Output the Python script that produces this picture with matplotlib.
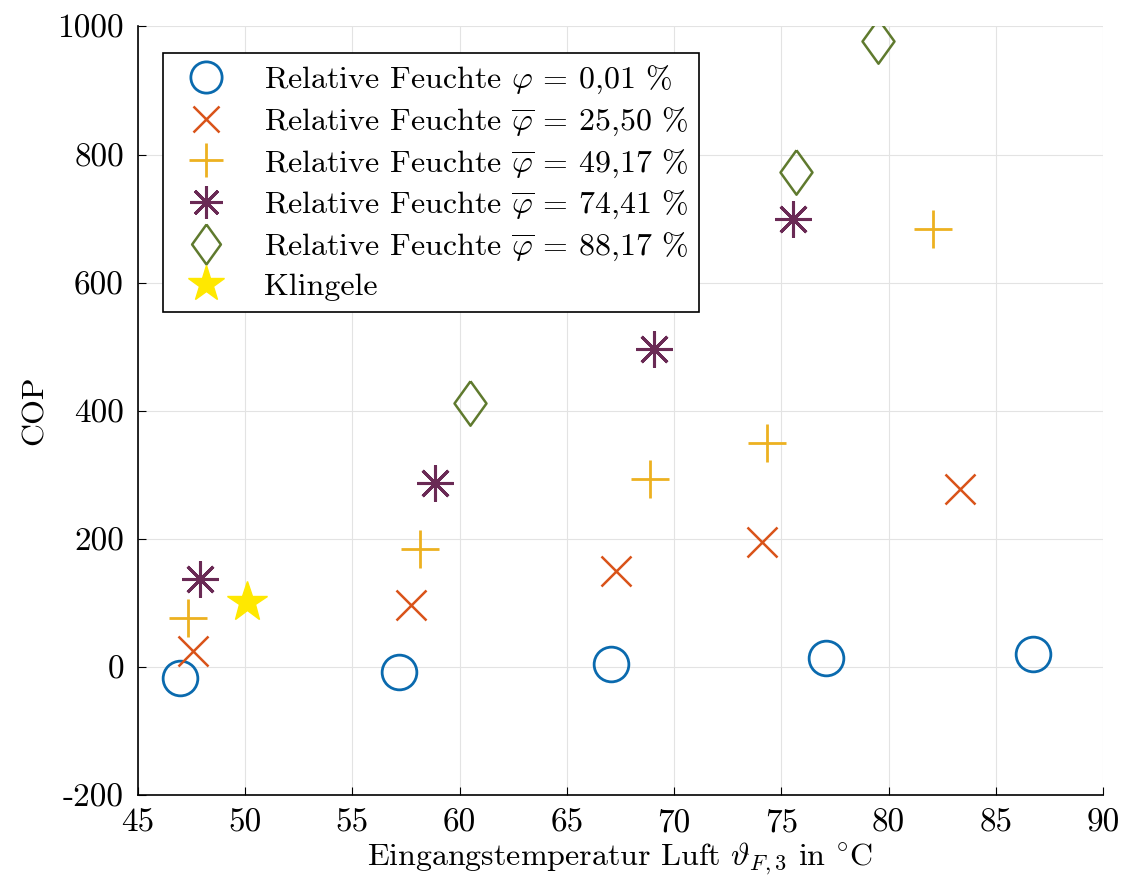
import matplotlib.pyplot as plt

plt.rcParams['font.family'] = 'serif'
plt.rcParams['font.serif'] = ['cmr10', 'DejaVu Serif']
plt.rcParams['mathtext.fontset'] = 'cm'
plt.rcParams['axes.unicode_minus'] = False
plt.rcParams['xtick.direction'] = 'in'
plt.rcParams['ytick.direction'] = 'in'
plt.rcParams['xtick.major.pad'] = 10
plt.rcParams['ytick.major.pad'] = 10
plt.rcParams['xtick.major.size'] = 6
plt.rcParams['ytick.major.size'] = 6

# data
x_phi0 = [46.96, 57.17, 67.06, 77.09, 86.74]
y_phi0 = [-17, -8, 5, 14, 20]
x_phi25 = [47.57, 57.73, 67.3, 74.1, 83.34]
y_phi25 = [25, 97, 150, 195, 278]
x_phi49 = [47.33, 58.15, 68.88, 74.34, 82.08]
y_phi49 = [77, 184, 294, 350, 683]
x_phi74 = [47.9, 58.85, 69.07, 75.55]
y_phi74 = [137, 287, 497, 700]
x_phi88 = [60.49, 75.69, 79.5]
y_phi88 = [412, 773, 977]
x_kling = [50.08]
y_kling = [101]

labels = [r'Relative Feuchte $\varphi$ = 0,01 %',
          r'Relative Feuchte $\overline{\varphi}$ = 25,50 %',
          r'Relative Feuchte $\overline{\varphi}$ = 49,17 %',
          r'Relative Feuchte $\overline{\varphi}$ = 74,41 %',
          r'Relative Feuchte $\overline{\varphi}$ = 88,17 %',
          'Klingele']

xticks = [45, 50, 55, 60, 65, 70, 75, 80, 85, 90]
yticks = [-200, 0, 200, 400, 600, 800, 1000]

diamond = [(0, 1), (0.72, 0), (0, -1), (-0.72, 0), (0, 1)]

fig = plt.figure(figsize=(11.21, 8.81), dpi=100)
ax = fig.add_axes([0.123, 0.0976, 0.861, 0.8724])

ax.plot(x_phi0, y_phi0, 'o', ms=25, mfc='none', mec='#0A6AAE', mew=2, ls='none', label=labels[0])
ax.plot(x_phi25, y_phi25, 'x', ms=21, mec='#D95319', mew=1.8, ls='none', label=labels[1])
ax.plot(x_phi49, y_phi49, '+', ms=27, mec='#EDB120', mew=2, ls='none', label=labels[2])
ax.plot(x_phi74, y_phi74, marker=(8, 2, 0), ms=26, mec='#6A2A55', mew=2.2, ls='none', label=labels[3])
ax.plot(x_phi88, y_phi88, marker=diamond, ms=32, mfc='none', mec='#5F7A2E', mew=1.8, ls='none', label=labels[4])
ax.plot(x_kling, y_kling, '*', ms=30, mfc='#FFE800', mec='#FFE800', ls='none', label=labels[5])

ax.set_xlim(45, 90)
ax.set_ylim(-200, 1000)
ax.set_xticks(xticks)
ax.set_xticklabels([str(t) for t in xticks])
ax.set_yticks(yticks)
ax.set_yticklabels([str(t) for t in yticks])
ax.tick_params(labelsize=24, top=False, right=False)
ax.grid(True, color='#e3e3e3', lw=0.8)
ax.set_axisbelow(True)
for s in ['top', 'right']:
    ax.spines[s].set_visible(False)
for s in ['left', 'bottom']:
    ax.spines[s].set_linewidth(1.2)

ax.set_xlabel(r'Eingangstemperatur Luft $\vartheta_{F,3}$ in $^{\circ}$C', fontsize=23, labelpad=2)
ax.set_ylabel('COP', fontsize=23, labelpad=6)

leg = ax.legend(loc='upper left', bbox_to_anchor=(0.026, 0.966), borderaxespad=0, fontsize=23,
                frameon=True, fancybox=False, edgecolor='black', framealpha=1,
                markerscale=0.9, handletextpad=0.8, labelspacing=0.3, borderpad=0.35)
leg.get_frame().set_linewidth(1.2)

fig.savefig('out.png', dpi=100)
